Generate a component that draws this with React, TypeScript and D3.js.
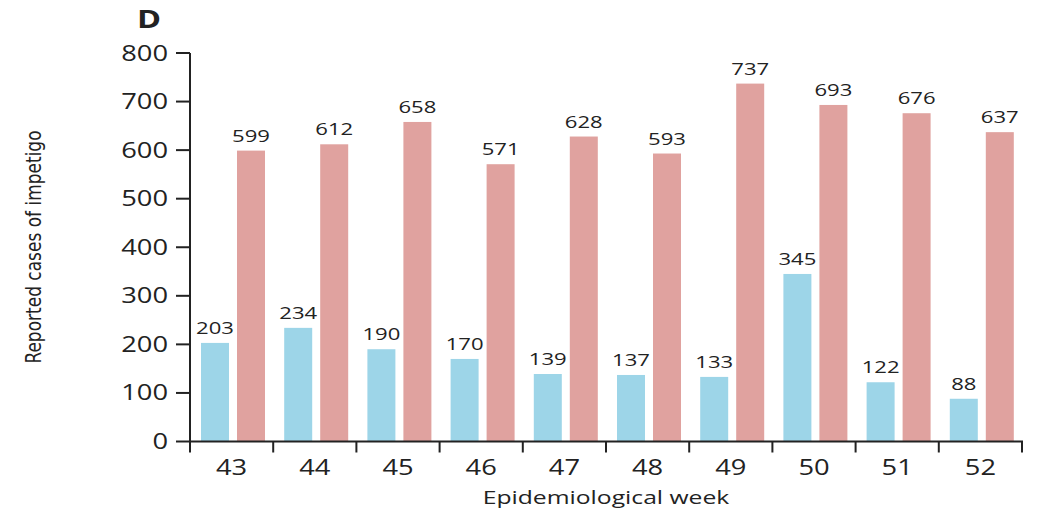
import React, { useEffect, useRef } from "react";
import * as d3 from "d3";

const weeks = ["43", "44", "45", "46", "47", "48", "49", "50", "51", "52"];
const blueValues = [203, 234, 190, 170, 139, 137, 133, 345, 122, 88];
const redValues = [599, 612, 658, 571, 628, 593, 737, 693, 676, 637];
const yTicks = [0, 100, 200, 300, 400, 500, 600, 700, 800];

export default function App() {
    const ref = useRef<SVGSVGElement>(null);

    useEffect(() => {
        const svg = d3.select(ref.current);
        svg.selectAll("*").remove();

        const left = 190;
        const right = 1022;
        const top = 53;
        const bottom = 441.5;
        const font = "'Open Sans', Lato, sans-serif";
        const stretch = 1.3;

        const x = d3.scaleBand().domain(weeks).range([left, right]);
        const y = d3.scaleLinear().domain([0, 800]).range([bottom, top]);
        const bw = x.bandwidth();
        const barW = 28;

        const g = svg.append("g");

        // the source text is stretched sideways, so scale it
        const label = (tx: number, ty: number, txt: string | number, size: number, anchor = "middle") =>
            g.append("text")
                .attr("transform", `translate(${tx},${ty}) scale(${stretch},1)`)
                .attr("text-anchor", anchor)
                .style("font-family", font)
                .style("font-size", size + "px")
                .style("fill", "#222")
                .text(txt);

        // bars
        weeks.forEach((w, i) => {
            const x0 = x(w)!;
            const bx = x0 + 11;
            const rx = x0 + 47;
            g.append("rect")
                .attr("x", bx)
                .attr("y", y(blueValues[i]))
                .attr("width", barW)
                .attr("height", bottom - y(blueValues[i]))
                .style("fill", "#9dd5e8");
            g.append("rect")
                .attr("x", rx)
                .attr("y", y(redValues[i]))
                .attr("width", barW)
                .attr("height", bottom - y(redValues[i]))
                .style("fill", "#e0a29f");
            label(bx + barW / 2, y(blueValues[i]) - 9, blueValues[i], 17);
            label(rx + barW / 2, y(redValues[i]) - 9, redValues[i], 17);
        });

        // y axis
        g.append("line")
            .attr("x1", left).attr("x2", left)
            .attr("y1", top).attr("y2", bottom)
            .style("stroke", "#222").style("stroke-width", 2);
        yTicks.forEach((t) => {
            g.append("line")
                .attr("x1", left - 14).attr("x2", left)
                .attr("y1", y(t)).attr("y2", y(t))
                .style("stroke", "#222").style("stroke-width", 2);
            label(left - 22, y(t) + 7.5, t, 21, "end");
        });

        // x axis
        g.append("line")
            .attr("x1", left - 1).attr("x2", right + 1)
            .attr("y1", bottom).attr("y2", bottom)
            .style("stroke", "#222").style("stroke-width", 2);
        const edges = weeks.map((w) => x(w)!).concat([right]);
        edges.forEach((e) => {
            g.append("line")
                .attr("x1", e).attr("x2", e)
                .attr("y1", bottom).attr("y2", bottom + 11)
                .style("stroke", "#222").style("stroke-width", 2);
        });
        weeks.forEach((w) => {
            label(x(w)! + bw / 2, bottom + 33, w, 21);
        });

        label(606, 504, "Epidemiological week", 19);

        g.append("text")
            .attr("transform", "translate(41,247) rotate(-90) scale(0.9,1)")
            .attr("text-anchor", "middle")
            .style("font-family", "'Liberation Sans Narrow', 'DejaVu Sans Condensed', sans-serif")
            .style("font-size", "21px")
            .style("fill", "#222")
            .text("Reported cases of impetigo");

        g.append("text")
            .attr("transform", `translate(137,28) scale(${stretch},1)`)
            .style("font-family", "'Open Sans', sans-serif")
            .style("font-weight", "bold")
            .style("font-size", "25px")
            .style("fill", "#222")
            .text("D");
    }, []);

    return (
        <svg
            ref={ref}
            width="1038"
            height="515"
            style={{ position: "absolute", left: 0, top: 0, background: "#fff" }}
        ></svg>
    );
}
